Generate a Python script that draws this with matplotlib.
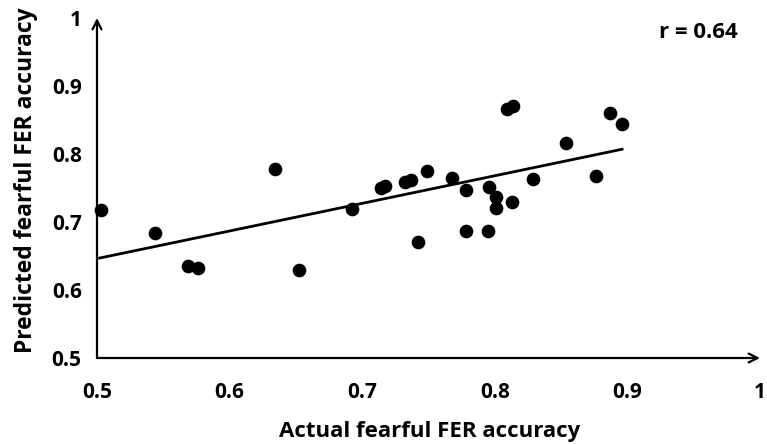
import matplotlib
matplotlib.use("Agg")
import matplotlib.pyplot as plt
import numpy as np

plt.rcParams['font.family'] = ['Open Sans', 'DejaVu Sans']

# Data
actual = [0.503, 0.544, 0.569, 0.576, 0.634, 0.652, 0.692, 0.714, 0.717, 0.732,
          0.737, 0.749, 0.742, 0.768, 0.778, 0.778, 0.796, 0.801, 0.801, 0.795,
          0.813, 0.809, 0.814, 0.829, 0.854, 0.876, 0.887, 0.896]
predicted = [0.718, 0.684, 0.635, 0.632, 0.778, 0.629, 0.719, 0.750, 0.753, 0.759,
             0.762, 0.775, 0.671, 0.765, 0.747, 0.687, 0.751, 0.737, 0.721, 0.687,
             0.729, 0.866, 0.871, 0.763, 0.816, 0.768, 0.860, 0.844]
fit_x = [0.502, 0.896]
fit_y = [0.647, 0.807]
ticks = [0.5, 0.6, 0.7, 0.8, 0.9, 1.0]
tick_labels = ['0.5', '0.6', '0.7', '0.8', '0.9', '1']
r_text = 'r = 0.64'

W, H = 767, 444
fig = plt.figure(figsize=(W / 100, H / 100), dpi=100)
ax = fig.add_axes([97 / W, (H - 358) / H, (760 - 97) / W, (358 - 18) / H])
ax.set_xlim(0.5, 1.0)
ax.set_ylim(0.5, 1.0)

ax.scatter(actual, predicted, s=78, color='black', zorder=3, clip_on=False)
ax.plot(fit_x, fit_y, color='black', lw=2.0, zorder=2)

for s in ax.spines.values():
    s.set_visible(False)

ax.annotate('', xy=(1.0, 0), xytext=(0, 0), xycoords='axes fraction',
            arrowprops=dict(arrowstyle='->', lw=1.6, color='black',
                            shrinkA=0, shrinkB=0, mutation_scale=16))
ax.annotate('', xy=(0, 1.0), xytext=(0, 0), xycoords='axes fraction',
            arrowprops=dict(arrowstyle='->', lw=1.6, color='black',
                            shrinkA=0, shrinkB=0, mutation_scale=16))

ax.set_xticks(ticks)
ax.set_xticklabels(tick_labels)
ax.set_yticks(ticks)
ax.set_yticklabels(tick_labels)
ax.tick_params(axis='x', length=0, pad=17, labelsize=15)
ax.tick_params(axis='y', length=0, pad=11, labelsize=15)
for lab in ax.get_xticklabels() + ax.get_yticklabels():
    lab.set_fontweight('bold')

fig.text(430 / W, 1 - 431 / H, 'Actual fearful FER accuracy', ha='center', va='center',
         fontsize=16, fontweight='bold')
fig.text(26 / W, 1 - 180 / H, 'Predicted fearful FER accuracy', ha='center', va='center',
         rotation=90, fontsize=16.5, fontweight='bold')
fig.text(698 / W, 1 - 32 / H, r_text, ha='center', va='center', fontsize=16,
         fontweight='bold')

fig.savefig('out.png', dpi=100)
